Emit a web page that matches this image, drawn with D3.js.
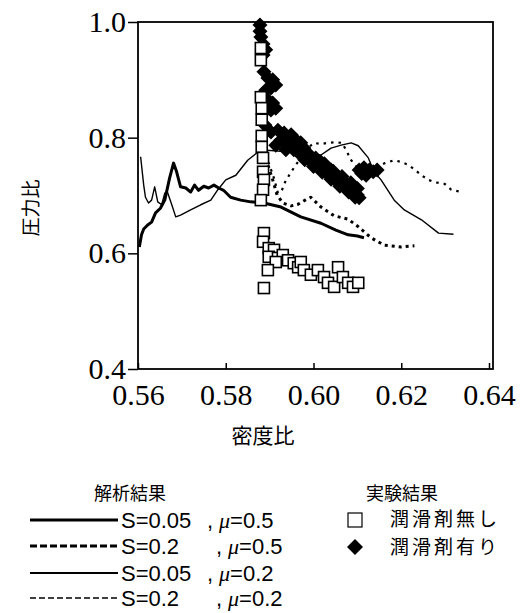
<!DOCTYPE html>
<html><head><meta charset="utf-8">
<script src="https://cdn.jsdelivr.net/npm/d3@7/dist/d3.min.js"></script>
<style>body{margin:0;background:#fff}svg{display:block}</style>
</head><body><svg id="c" width="526" height="613"></svg>
<script>
// ---- data ----
const xTicks = [0.56, 0.58, 0.60, 0.62, 0.64];
const yTicks = [0.4, 0.6, 0.8, 1.0];
const xLabel = "密度比";
const yLabel = "圧力比";
const analysisTitle = "解析結果";
const experimentTitle = "実験結果";

// S=0.05, mu=0.5 (thick solid)
const s005mu05 = [[0.5603,0.611],[0.5608,0.632],[0.5613,0.642],[0.5622,0.649],[0.5631,0.654],[0.5640,0.670],[0.5651,0.678],[0.5661,0.692],[0.5672,0.730],[0.5681,0.756],[0.5688,0.741],[0.5697,0.715],[0.5709,0.713],[0.5720,0.706],[0.5729,0.718],[0.5738,0.709],[0.5750,0.716],[0.5761,0.713],[0.5773,0.718],[0.5784,0.713],[0.5795,0.709],[0.5811,0.697],[0.5834,0.692],[0.5857,0.689],[0.5887,0.687],[0.5926,0.680],[0.5971,0.663],[0.6017,0.652],[0.6051,0.640],[0.6079,0.632],[0.6100,0.630],[0.6115,0.627]];
// S=0.2, mu=0.5 (thick dotted)
const s02mu05 = [[0.5885,0.775],[0.5896,0.753],[0.5907,0.727],[0.5917,0.701],[0.5930,0.687],[0.5949,0.682],[0.5965,0.685],[0.5981,0.692],[0.5994,0.697],[0.6017,0.680],[0.6047,0.665],[0.6079,0.659],[0.6102,0.646],[0.6131,0.627],[0.6161,0.614],[0.6200,0.611],[0.6230,0.613]];
// S=0.05, mu=0.2 (thin solid)
const s005mu02 = [[0.5606,0.767],[0.5613,0.718],[0.5617,0.697],[0.5624,0.687],[0.5631,0.692],[0.5638,0.715],[0.5645,0.689],[0.5654,0.684],[0.5661,0.704],[0.5667,0.706],[0.5677,0.684],[0.5686,0.663],[0.5697,0.666],[0.5720,0.675],[0.5743,0.684],[0.5766,0.692],[0.5782,0.710],[0.5800,0.727],[0.5823,0.735],[0.5850,0.761],[0.5880,0.779],[0.5949,0.775],[0.6017,0.770],[0.6040,0.782],[0.6063,0.787],[0.6086,0.791],[0.6102,0.786],[0.6125,0.765],[0.6138,0.741],[0.6154,0.727],[0.6184,0.692],[0.6207,0.675],[0.6246,0.658],[0.6285,0.635],[0.6319,0.633]];
// S=0.2, mu=0.2 (thin dotted)
const s02mu02 = [[0.5885,0.782],[0.5898,0.756],[0.5910,0.730],[0.5919,0.704],[0.5928,0.709],[0.5935,0.723],[0.5946,0.737],[0.5958,0.751],[0.5971,0.765],[0.5987,0.782],[0.6001,0.791],[0.6017,0.789],[0.6033,0.791],[0.6051,0.792],[0.6065,0.791],[0.6074,0.779],[0.6086,0.761],[0.6100,0.748],[0.6120,0.744],[0.6143,0.749],[0.6163,0.756],[0.6184,0.761],[0.6200,0.758],[0.6216,0.753],[0.6232,0.744],[0.6246,0.735],[0.6262,0.727],[0.6276,0.723],[0.6299,0.720],[0.6314,0.710],[0.6337,0.706]];

// experiment: no lubricant (open squares)
const noLube = [[0.5880,0.955],[0.5880,0.934],[0.5880,0.870],[0.5882,0.851],[0.5882,0.831],[0.5882,0.803],[0.5882,0.784],[0.5885,0.765],[0.5885,0.741],[0.5887,0.727],[0.5885,0.710],[0.5880,0.692],[0.5887,0.635],[0.5885,0.620],[0.5898,0.609],[0.5910,0.606],[0.5898,0.594],[0.5919,0.592],[0.5930,0.597],[0.5942,0.588],[0.5955,0.583],[0.5914,0.585],[0.5896,0.571],[0.5965,0.576],[0.5971,0.585],[0.5978,0.571],[0.5994,0.563],[0.6010,0.571],[0.6024,0.559],[0.6033,0.549],[0.6047,0.542],[0.6056,0.576],[0.6067,0.559],[0.6079,0.549],[0.6090,0.542],[0.6102,0.549],[0.5887,0.540]];
// experiment: with lubricant (filled diamonds)
const withLube = [[0.5878,0.995],[0.5878,0.984],[0.5880,0.974],[0.5885,0.962],[0.5891,0.952],[0.5885,0.943],[0.5887,0.914],[0.5896,0.903],[0.5907,0.900],[0.5903,0.886],[0.5914,0.891],[0.5891,0.882],[0.5896,0.865],[0.5907,0.860],[0.5903,0.848],[0.5914,0.851],[0.5887,0.844],[0.5889,0.822],[0.5903,0.810],[0.5919,0.813],[0.5933,0.808],[0.5949,0.805],[0.5926,0.796],[0.5942,0.792],[0.5960,0.796],[0.5971,0.791],[0.5914,0.787],[0.5955,0.779],[0.5978,0.782],[0.5937,0.779],[0.5971,0.770],[0.5987,0.765],[0.6001,0.758],[0.6013,0.753],[0.6024,0.744],[0.6035,0.735],[0.6047,0.730],[0.6058,0.723],[0.6069,0.718],[0.6081,0.713],[0.6090,0.706],[0.6100,0.701],[0.6104,0.696],[0.5994,0.761],[0.6017,0.758],[0.6040,0.744],[0.6063,0.730],[0.6086,0.718],[0.5985,0.775],[0.6005,0.765],[0.6025,0.755],[0.6045,0.742],[0.6065,0.733],[0.6085,0.722],[0.6100,0.712],[0.5980,0.762],[0.6000,0.750],[0.6020,0.740],[0.6040,0.728],[0.6060,0.716],[0.6080,0.706],[0.6095,0.697],[0.6104,0.744],[0.6115,0.748],[0.6127,0.744],[0.6136,0.741],[0.6145,0.744],[0.6120,0.735],[0.6110,0.738]];

const analysisLabels = [["S=0.05", "μ=0.5"], ["S=0.2", "μ=0.5"], ["S=0.05", "μ=0.2"], ["S=0.2", "μ=0.2"]];
const experimentLabels = ["潤滑剤無し", "潤滑剤有り"];

// ---- drawing ----
const svg = d3.select("#c");
svg.append("rect").attr("width",526).attr("height",613).attr("fill","#fff");
const L = 138, R = 489, T = 22, B = 369;
const x = d3.scaleLinear().domain([0.56, 0.64]).range([L, R]);
const y = d3.scaleLinear().domain([0.4, 1.0]).range([B, T]);
const SERIF = "Liberation Serif";
const SANS = "Liberation Sans";
const CJK = "Noto Sans CJK JP";

// frame
svg.append("rect").attr("x",L).attr("y",T).attr("width",R-L+4).attr("height",B-T)
  .attr("fill","none").attr("stroke","#000").attr("stroke-width",1.8);

// axes
const yAxis = d3.axisLeft(y).tickValues(yTicks).tickFormat(d3.format(".1f")).tickSize(10).tickPadding(2);
const gy = svg.append("g").attr("transform",`translate(${L},0)`).call(yAxis)
  .attr("font-family",SERIF).attr("font-size",30);
gy.select(".domain").remove();
gy.selectAll("line").attr("stroke","#000").attr("stroke-width",1.5);
gy.selectAll("text").attr("font-family",SERIF).attr("font-size",30).attr("fill","#000");

const xAxis = d3.axisBottom(x).tickValues(xTicks).tickFormat(d3.format(".2f")).tickSize(-6).tickPadding(15);
const gx = svg.append("g").attr("transform",`translate(0,${B})`).call(xAxis)
  .attr("font-family",SERIF).attr("font-size",30);
gx.select(".domain").remove();
gx.selectAll("line").attr("stroke","#000").attr("stroke-width",1.5);
gx.selectAll("text").attr("font-family",SERIF).attr("font-size",30).attr("fill","#000");

svg.append("text").attr("x",263).attr("y",443).attr("text-anchor","middle")
  .attr("font-family",CJK).attr("font-size",21).text(xLabel);
svg.append("text").attr("transform","translate(38,208) rotate(-90)").attr("text-anchor","middle")
  .attr("font-family",CJK).attr("font-size",19).text(yLabel);

// lines
const line = d3.line().x(d=>x(d[0])).y(d=>y(d[1]));
const styles = [
  {data:s005mu05, w:3, dash:null},
  {data:s02mu05, w:3, dash:"3,4"},
  {data:s005mu02, w:1.4, dash:null},
  {data:s02mu02, w:2.2, dash:"2.5,5"}
];
const plot = svg.append("g");
styles.forEach(s=>{
  plot.append("path").attr("d",line(s.data)).attr("fill","none").attr("stroke","#000")
    .attr("stroke-width",s.w).attr("stroke-dasharray",s.dash).attr("stroke-linejoin","round");
});

// diamonds
plot.selectAll(".dia").data(withLube).join("path")
  .attr("transform",d=>`translate(${x(d[0])},${y(d[1])})`)
  .attr("d","M0,-7.5L7.5,0L0,7.5L-7.5,0Z")
  .attr("fill","#000");
// squares
const sq = 11;
plot.selectAll(".sq").data(noLube).join("rect")
  .attr("x",d=>x(d[0])-sq/2).attr("y",d=>y(d[1])-sq/2).attr("width",sq).attr("height",sq)
  .attr("fill","#fff").attr("stroke","#000").attr("stroke-width",1.6);

// legend - analysis
svg.append("text").attr("x",130).attr("y",500).attr("text-anchor","middle")
  .attr("font-family",CJK).attr("font-size",18).text(analysisTitle);
const rowY = [520, 546, 573, 598];
analysisLabels.forEach((lab,i)=>{
  const dash = i===1 ? "7,3" : (i===3 ? "6,3" : null);
  svg.append("line").attr("x1",30).attr("x2",118).attr("y1",rowY[i]).attr("y2",rowY[i])
    .attr("stroke","#000").attr("stroke-width",i===0?3:(i===1?3:(i===2?2:1.6))).attr("stroke-dasharray",dash);
  const g = svg.append("g").attr("font-family",SANS).attr("font-size",22);
  g.append("text").attr("x",121).attr("y",rowY[i]+8).text(lab[0]);
  g.append("text").attr("x",i%2===0?207:216).attr("y",rowY[i]+8).text(",");
  const t = g.append("text").attr("x",i%2===0?219:228).attr("y",rowY[i]+8);
  t.append("tspan").attr("font-style","italic").attr("font-family",SERIF).text(lab[1].slice(0,1));
  t.append("tspan").text(lab[1].slice(1));
});

// legend - experiment
svg.append("text").attr("x",402).attr("y",500).attr("text-anchor","middle")
  .attr("font-family",CJK).attr("font-size",18).text(experimentTitle);
svg.append("rect").attr("x",348).attr("y",513).attr("width",14).attr("height",14)
  .attr("fill","#fff").attr("stroke","#000").attr("stroke-width",1.2);
svg.append("path").attr("transform","translate(355,547)").attr("d","M0,-8L8,0L0,8L-8,0Z").attr("fill","#000");
experimentLabels.forEach((t,i)=>{
  svg.append("text").attr("x",390).attr("y",[526,554][i]).attr("font-family",CJK)
    .attr("font-size",19).attr("letter-spacing",3).text(t);
});
</script></body></html>
